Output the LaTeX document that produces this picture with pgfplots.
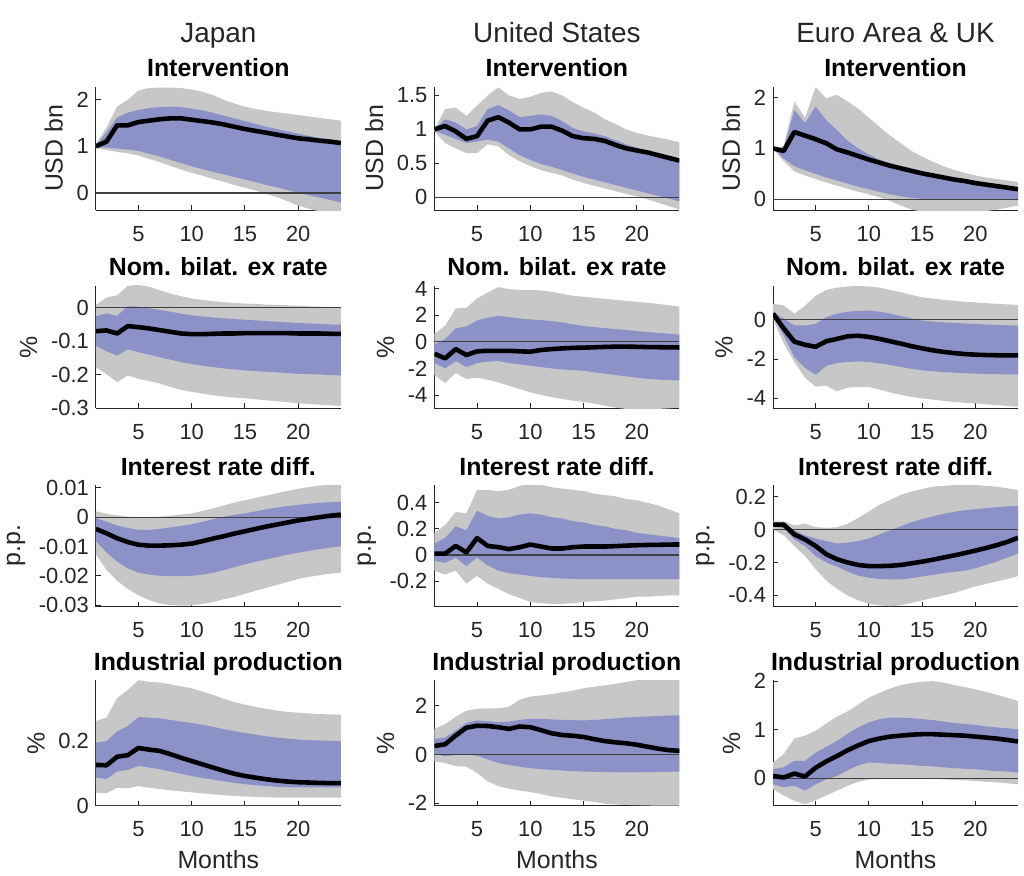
\documentclass[border=0pt]{standalone}
\usepackage{fontspec}
\setmainfont{Liberation Sans}
\usepackage{pgfplots}
\usepackage{pgfplotstable}
\pgfplotsset{compat=1.18}
\usepgfplotslibrary{fillbetween}
\definecolor{bandgray}{RGB}{199,199,199}
\definecolor{bandblue}{RGB}{140,145,200}
\definecolor{axgray}{RGB}{38,38,38}

\pgfplotstableread{
x gl bl m bu gu
1 0.96 0.98 1.0 1.02 1.05
2 0.92 0.97 1.1 1.3 1.4
3 0.88 0.95 1.45 1.62 1.85
4 0.85 0.93 1.45 1.72 2.0
5 0.8 0.9 1.52 1.78 2.2
6 0.73 0.84 1.55 1.82 2.25
7 0.66 0.78 1.58 1.84 2.26
8 0.58 0.71 1.6 1.85 2.26
9 0.5 0.64 1.6 1.84 2.25
10 0.43 0.57 1.57 1.81 2.22
11 0.37 0.51 1.54 1.77 2.17
12 0.3 0.45 1.51 1.72 2.1
13 0.24 0.4 1.47 1.66 2.0
14 0.17 0.34 1.42 1.6 1.92
15 0.11 0.29 1.37 1.54 1.85
16 0.05 0.23 1.33 1.48 1.8
17 -0.02 0.17 1.29 1.42 1.76
18 -0.09 0.12 1.25 1.37 1.73
19 -0.18 0.06 1.21 1.32 1.7
20 -0.27 0.0 1.17 1.27 1.67
21 -0.34 -0.05 1.15 1.22 1.64
22 -0.4 -0.1 1.12 1.18 1.61
23 -0.45 -0.15 1.1 1.14 1.58
24 -0.5 -0.21 1.07 1.1 1.55
}\TA
\pgfplotstableread{
x gl bl m bu gu
1 0.97 0.98 1.0 1.0 1.0
2 0.8 0.92 1.05 1.15 1.3
3 0.72 0.86 0.97 1.1 1.32
4 0.65 0.8 0.86 1.0 1.2
5 0.65 0.82 0.9 1.05 1.35
6 0.78 0.85 1.13 1.3 1.5
7 0.75 0.82 1.18 1.36 1.62
8 0.62 0.72 1.1 1.28 1.5
9 0.53 0.62 1.0 1.18 1.45
10 0.46 0.55 1.0 1.2 1.48
11 0.4 0.49 1.04 1.22 1.54
12 0.36 0.45 1.04 1.2 1.56
13 0.32 0.4 0.98 1.12 1.5
14 0.26 0.35 0.9 1.02 1.4
15 0.21 0.3 0.87 0.97 1.32
16 0.17 0.26 0.86 0.94 1.25
17 0.13 0.22 0.83 0.9 1.15
18 0.09 0.18 0.77 0.84 1.08
19 0.05 0.14 0.72 0.78 1.0
20 0.01 0.1 0.69 0.73 0.95
21 -0.03 0.06 0.66 0.68 0.91
22 -0.08 0.02 0.62 0.63 0.88
23 -0.13 -0.02 0.58 0.58 0.85
24 -0.18 -0.06 0.54 0.54 0.81
}\TB
\pgfplotstableread{
x gl bl m bu gu
1 1.0 1.0 1.0 1.0 1.0
2 0.75 0.8 0.95 1.0 1.05
3 0.55 0.65 1.32 1.75 1.92
4 0.47 0.57 1.25 1.5 1.6
5 0.4 0.5 1.18 1.82 2.2
6 0.33 0.43 1.1 1.55 1.98
7 0.27 0.37 0.98 1.36 2.05
8 0.21 0.31 0.92 1.15 1.92
9 0.15 0.25 0.85 1.0 1.78
10 0.1 0.2 0.78 0.88 1.6
11 0.04 0.15 0.72 0.78 1.42
12 -0.03 0.1 0.66 0.7 1.25
13 -0.12 0.06 0.61 0.64 1.1
14 -0.2 0.03 0.56 0.58 0.95
15 -0.24 0.01 0.51 0.53 0.84
16 -0.26 0.0 0.47 0.49 0.74
17 -0.27 -0.01 0.43 0.45 0.65
18 -0.27 -0.01 0.39 0.41 0.58
19 -0.26 -0.01 0.36 0.37 0.52
20 -0.25 -0.01 0.32 0.34 0.47
21 -0.23 -0.01 0.29 0.31 0.43
22 -0.2 -0.01 0.26 0.28 0.4
23 -0.16 -0.01 0.23 0.25 0.37
24 -0.12 -0.01 0.2 0.22 0.34
}\TC
\pgfplotstableread{
x gl bl m bu gu
1 -0.178 -0.114 -0.07 -0.026 0.008
2 -0.198 -0.13 -0.068 -0.017 0.03
3 -0.222 -0.143 -0.077 -0.024 0.037
4 -0.202 -0.124 -0.055 0.004 0.065
5 -0.212 -0.133 -0.058 0.003 0.068
6 -0.219 -0.14 -0.062 -0.002 0.062
7 -0.226 -0.148 -0.067 -0.007 0.052
8 -0.236 -0.155 -0.072 -0.012 0.042
9 -0.245 -0.162 -0.077 -0.018 0.034
10 -0.251 -0.168 -0.079 -0.023 0.027
11 -0.256 -0.173 -0.079 -0.026 0.023
12 -0.261 -0.177 -0.078 -0.029 0.019
13 -0.265 -0.181 -0.077 -0.032 0.016
14 -0.268 -0.184 -0.077 -0.034 0.014
15 -0.27 -0.187 -0.076 -0.036 0.012
16 -0.273 -0.189 -0.076 -0.038 0.011
17 -0.276 -0.191 -0.076 -0.04 0.009
18 -0.279 -0.193 -0.076 -0.042 0.008
19 -0.282 -0.195 -0.076 -0.044 0.007
20 -0.285 -0.197 -0.077 -0.046 0.006
21 -0.287 -0.198 -0.077 -0.047 0.004
22 -0.289 -0.199 -0.077 -0.048 0.003
23 -0.291 -0.201 -0.078 -0.05 0.002
24 -0.293 -0.202 -0.078 -0.051 0.001
}\TD
\pgfplotstableread{
x gl bl m bu gu
1 -2.5 -1.6 -0.9 -0.2 0.6
2 -3.1 -2.0 -1.25 0.2 1.2
3 -2.35 -1.45 -0.55 1.0 2.5
4 -2.8 -1.9 -1.0 1.15 2.55
5 -2.7 -1.6 -0.72 1.6 3.25
6 -2.85 -1.5 -0.68 1.8 3.7
7 -3.05 -1.45 -0.68 1.95 4.1
8 -3.3 -1.6 -0.68 1.85 3.95
9 -3.55 -1.7 -0.72 1.75 3.9
10 -3.8 -1.8 -0.75 1.68 3.9
11 -4.0 -1.9 -0.62 1.62 3.85
12 -4.15 -2.0 -0.55 1.55 3.75
13 -4.3 -2.08 -0.5 1.45 3.6
14 -4.42 -2.13 -0.46 1.3 3.45
15 -4.52 -2.18 -0.44 1.18 3.38
16 -4.65 -2.3 -0.42 1.1 3.3
17 -4.8 -2.4 -0.39 1.02 3.22
18 -4.95 -2.5 -0.37 0.95 3.15
19 -5.05 -2.6 -0.37 0.88 3.07
20 -5.1 -2.7 -0.38 0.8 3.0
21 -5.1 -2.78 -0.4 0.73 2.92
22 -5.05 -2.84 -0.41 0.66 2.84
23 -5.0 -2.88 -0.42 0.6 2.74
24 -4.95 -2.91 -0.43 0.54 2.64
}\TE
\pgfplotstableread{
x gl bl m bu gu
1 0.03 0.17 0.3 0.37 0.8
2 -1.2 -0.8 -0.45 0.05 0.72
3 -2.15 -1.9 -1.12 -0.3 0.3
4 -2.95 -2.45 -1.28 -0.3 0.7
5 -3.4 -2.8 -1.38 -0.22 1.2
6 -3.35 -2.35 -1.1 0.12 1.5
7 -3.65 -2.2 -0.98 0.3 1.62
8 -3.45 -2.15 -0.85 0.4 1.68
9 -3.42 -2.12 -0.82 0.44 1.7
10 -3.42 -2.15 -0.88 0.45 1.68
11 -3.55 -2.22 -0.98 0.4 1.62
12 -3.7 -2.3 -1.1 0.3 1.5
13 -3.82 -2.4 -1.22 0.18 1.38
14 -3.92 -2.5 -1.35 0.06 1.25
15 -4.0 -2.57 -1.46 -0.05 1.13
16 -4.06 -2.62 -1.56 -0.1 1.07
17 -4.12 -2.66 -1.64 -0.14 1.0
18 -4.18 -2.69 -1.7 -0.17 0.95
19 -4.22 -2.72 -1.75 -0.2 0.9
20 -4.25 -2.74 -1.78 -0.22 0.87
21 -4.3 -2.76 -1.8 -0.25 0.83
22 -4.34 -2.77 -1.81 -0.27 0.8
23 -4.38 -2.78 -1.82 -0.29 0.77
24 -4.42 -2.79 -1.82 -0.3 0.74
}\TF
\pgfplotstableread{
x gl bl m bu gu
1 -0.0127 -0.0082 -0.004 -0.0003 0.002
2 -0.018 -0.012 -0.0055 -0.0015 0.0012
3 -0.0217 -0.0152 -0.0072 -0.0028 0.0006
4 -0.0245 -0.0175 -0.0085 -0.0037 0.0002
5 -0.0267 -0.0189 -0.0094 -0.0043 0.0
6 -0.0283 -0.0196 -0.0097 -0.0043 0.0
7 -0.0295 -0.02 -0.0097 -0.004 0.0002
8 -0.03 -0.0201 -0.0096 -0.0035 0.0005
9 -0.0302 -0.0201 -0.0094 -0.003 0.0009
10 -0.0301 -0.02 -0.009 -0.0024 0.0013
11 -0.0296 -0.0196 -0.0082 -0.0016 0.0021
12 -0.029 -0.019 -0.0073 -0.0007 0.003
13 -0.028 -0.0181 -0.0065 0.0002 0.004
14 -0.0272 -0.0171 -0.0056 0.0008 0.005
15 -0.0262 -0.0161 -0.0048 0.0013 0.0058
16 -0.0251 -0.0152 -0.004 0.002 0.0066
17 -0.0241 -0.0144 -0.0032 0.0027 0.0074
18 -0.0231 -0.0136 -0.0025 0.0033 0.0082
19 -0.0221 -0.0128 -0.0018 0.0038 0.009
20 -0.0211 -0.0121 -0.0011 0.0042 0.0097
21 -0.0204 -0.0115 -0.0005 0.0046 0.0103
22 -0.0198 -0.0109 0.0 0.0049 0.0108
23 -0.0193 -0.0104 0.0005 0.0051 0.0112
24 -0.0189 -0.0099 0.0009 0.0053 0.0115
}\TG
\pgfplotstableread{
x gl bl m bu gu
1 -0.12 -0.045 0.01 0.09 0.17
2 -0.15 -0.06 0.01 0.13 0.23
3 -0.12 -0.02 0.07 0.22 0.33
4 -0.22 -0.085 0.02 0.19 0.32
5 -0.16 -0.02 0.13 0.34 0.5
6 -0.22 -0.08 0.07 0.3 0.5
7 -0.26 -0.12 0.06 0.28 0.49
8 -0.3 -0.14 0.045 0.29 0.5
9 -0.33 -0.15 0.06 0.31 0.53
10 -0.36 -0.16 0.08 0.32 0.55
11 -0.37 -0.17 0.065 0.31 0.54
12 -0.375 -0.175 0.05 0.29 0.52
13 -0.375 -0.18 0.05 0.28 0.51
14 -0.37 -0.183 0.06 0.26 0.5
15 -0.36 -0.185 0.065 0.25 0.49
16 -0.355 -0.185 0.065 0.23 0.47
17 -0.35 -0.185 0.065 0.22 0.46
18 -0.34 -0.185 0.068 0.2 0.45
19 -0.33 -0.185 0.072 0.19 0.43
20 -0.32 -0.185 0.075 0.17 0.42
21 -0.32 -0.185 0.077 0.16 0.4
22 -0.315 -0.185 0.078 0.15 0.38
23 -0.31 -0.185 0.08 0.14 0.35
24 -0.31 -0.185 0.081 0.13 0.32
}\TH
\pgfplotstableread{
x gl bl m bu gu
1 0.0 0.02 0.03 0.044 0.05
2 -0.035 0.008 0.03 0.04 0.05
3 -0.1 -0.06 -0.03 -0.005 0.025
4 -0.16 -0.1 -0.06 -0.035 0.035
5 -0.24 -0.16 -0.1 -0.055 0.015
6 -0.31 -0.2 -0.15 -0.07 0.01
7 -0.36 -0.225 -0.18 -0.085 0.014
8 -0.4 -0.255 -0.2 -0.08 0.035
9 -0.43 -0.28 -0.215 -0.07 0.07
10 -0.45 -0.293 -0.222 -0.055 0.11
11 -0.46 -0.3 -0.222 -0.03 0.15
12 -0.465 -0.303 -0.22 -0.005 0.18
13 -0.46 -0.302 -0.215 0.02 0.21
14 -0.445 -0.295 -0.205 0.045 0.23
15 -0.43 -0.285 -0.195 0.063 0.245
16 -0.415 -0.275 -0.183 0.08 0.26
17 -0.4 -0.265 -0.17 0.095 0.265
18 -0.385 -0.257 -0.157 0.107 0.27
19 -0.365 -0.25 -0.143 0.117 0.275
20 -0.345 -0.235 -0.128 0.123 0.27
21 -0.33 -0.215 -0.112 0.13 0.265
22 -0.315 -0.195 -0.095 0.135 0.26
23 -0.3 -0.17 -0.075 0.14 0.25
24 -0.283 -0.145 -0.05 0.143 0.24
}\TI
\pgfplotstableread{
x gl bl m bu gu
1 0.04 0.086 0.125 0.193 0.26
2 0.038 0.082 0.124 0.198 0.27
3 0.055 0.105 0.15 0.228 0.33
4 0.053 0.11 0.155 0.244 0.355
5 0.06 0.122 0.177 0.272 0.385
6 0.055 0.117 0.172 0.27 0.38
7 0.051 0.112 0.168 0.268 0.378
8 0.047 0.105 0.158 0.263 0.372
9 0.044 0.098 0.147 0.258 0.366
10 0.041 0.091 0.137 0.254 0.36
11 0.038 0.085 0.127 0.248 0.35
12 0.035 0.08 0.117 0.242 0.34
13 0.032 0.075 0.107 0.235 0.328
14 0.03 0.07 0.098 0.229 0.318
15 0.028 0.066 0.091 0.223 0.31
16 0.027 0.063 0.086 0.218 0.303
17 0.026 0.06 0.081 0.213 0.297
18 0.025 0.058 0.077 0.209 0.292
19 0.025 0.057 0.074 0.206 0.288
20 0.025 0.056 0.072 0.203 0.285
21 0.025 0.056 0.071 0.201 0.283
22 0.025 0.056 0.07 0.2 0.281
23 0.025 0.056 0.069 0.199 0.28
24 0.025 0.056 0.069 0.198 0.279
}\TJ
\pgfplotstableread{
x gl bl m bu gu
1 -0.28 0.03 0.35 0.63 1.05
2 -0.35 -0.07 0.42 0.7 1.25
3 -0.48 -0.02 0.78 0.98 1.55
4 -0.5 0.0 1.1 1.3 1.8
5 -0.75 -0.05 1.18 1.4 1.88
6 -1.1 -0.2 1.17 1.37 1.89
7 -1.3 -0.35 1.12 1.33 1.9
8 -1.4 -0.43 1.05 1.35 1.96
9 -1.48 -0.5 1.15 1.42 2.25
10 -1.54 -0.56 1.12 1.47 2.38
11 -1.62 -0.6 1.0 1.46 2.42
12 -1.72 -0.63 0.87 1.44 2.48
13 -1.78 -0.66 0.8 1.42 2.55
14 -1.84 -0.68 0.77 1.41 2.62
15 -1.89 -0.7 0.72 1.4 2.72
16 -1.95 -0.71 0.63 1.42 2.78
17 -2.02 -0.72 0.55 1.45 2.84
18 -2.05 -0.73 0.5 1.48 2.9
19 -2.07 -0.73 0.46 1.52 2.98
20 -2.08 -0.73 0.4 1.54 3.05
21 -2.09 -0.72 0.32 1.56 3.1
22 -2.1 -0.72 0.24 1.58 3.1
23 -2.1 -0.71 0.18 1.6 3.1
24 -2.1 -0.7 0.15 1.61 3.1
}\TK
\pgfplotstableread{
x gl bl m bu gu
1 -0.22 -0.12 0.05 0.19 0.33
2 -0.35 -0.18 0.02 0.23 0.5
3 -0.46 -0.15 0.1 0.36 0.82
4 -0.53 -0.25 0.04 0.36 0.88
5 -0.45 -0.12 0.22 0.53 0.98
6 -0.35 -0.02 0.35 0.65 1.13
7 -0.25 0.05 0.46 0.77 1.27
8 -0.15 0.17 0.58 0.92 1.38
9 -0.07 0.27 0.68 1.05 1.52
10 -0.02 0.33 0.77 1.15 1.66
11 -0.01 0.32 0.82 1.22 1.76
12 0.0 0.3 0.86 1.25 1.85
13 0.0 0.29 0.88 1.25 1.92
14 0.0 0.28 0.9 1.24 1.96
15 -0.01 0.26 0.91 1.22 1.99
16 -0.01 0.25 0.91 1.2 2.0
17 -0.02 0.23 0.9 1.17 1.97
18 -0.03 0.21 0.89 1.14 1.92
19 -0.04 0.2 0.88 1.12 1.88
20 -0.05 0.19 0.86 1.1 1.83
21 -0.07 0.17 0.84 1.07 1.78
22 -0.08 0.15 0.82 1.05 1.72
23 -0.1 0.14 0.79 1.03 1.66
24 -0.12 0.12 0.76 1.01 1.59
}\TL

\pgfplotsset{
  irf/.style={
    scale only axis, width=123pt,
    xmin=1, xmax=24,
    xtick={5,10,15,20}, xticklabels={5,10,15,20},
    scaled y ticks=false, scaled x ticks=false,
    clip mode=individual,
    axis x line*=bottom, axis y line*=left,
    axis line style={color=axgray, line width=0.5pt},
    tick style={color=axgray, line width=0.5pt},
    tick align=inside, major tick length=2.5pt,
    ticklabel style={font=\fontsize{11}{13}\selectfont, color=axgray},
    xticklabel style={yshift=-4.5pt},
    label style={font=\fontsize{12.5}{15}\selectfont, color=axgray},
    title style={font=\bfseries\fontsize{12.5}{15}\selectfont, anchor=base, at={(0.5,1)}, yshift=-1pt, inner sep=0pt},
    anchor=south west,
  },
  zl/.style={color=black!75, line width=0.7pt},
  ml/.style={color=black, line width=2.3pt, line join=round},
}
\newcommand{\irf}[1]{%
  \addplot[draw=none, name path=gu] table[x=x,y=gu]{#1};
  \addplot[draw=none, name path=gl] table[x=x,y=gl]{#1};
  \addplot[fill=bandgray, draw=none] fill between[of=gu and gl];
  \addplot[draw=none, name path=bu] table[x=x,y=bu]{#1};
  \addplot[draw=none, name path=bl] table[x=x,y=bl]{#1};
  \addplot[fill=bandblue, draw=none] fill between[of=bu and bl];
  \addplot[zl] coordinates {(1,0) (24,0)};
  \addplot[ml] table[x=x,y=m]{#1};
}

\begin{document}
\begin{tikzpicture}
% Row 1
\begin{axis}[irf, at={(46pt,-105.5pt)}, height=62pt, ymin=-0.37, ymax=2.28,
  ytick={0,1,2}, yticklabels={0,1,2}, ylabel={USD bn}, title={Intervention}]
\irf{\TA}
\node[font=\fontsize{14}{17}\selectfont, anchor=base, yshift=22pt, color=axgray] at (axis description cs:0.5,1) {Japan};
\end{axis}
\begin{axis}[irf, at={(216pt,-105.5pt)}, height=62pt, ymin=-0.19, ymax=1.63,
  ytick={0,0.5,1,1.5}, yticklabels={0,0.5,1,1.5}, ylabel={USD bn}, title={Intervention}]
\irf{\TB}
\node[font=\fontsize{14}{17}\selectfont, anchor=base, yshift=22pt, color=axgray] at (axis description cs:0.5,1) {United States};
\end{axis}
\begin{axis}[irf, at={(386pt,-105.5pt)}, height=62pt, ymin=-0.21, ymax=2.21,
  ytick={0,1,2}, yticklabels={0,1,2}, ylabel={USD bn}, title={Intervention}]
\irf{\TC}
\node[font=\fontsize{14}{17}\selectfont, anchor=base, yshift=22pt, color=axgray] at (axis description cs:0.5,1) {Euro Area \& UK};
\end{axis}
% Row 2
\begin{axis}[irf, at={(46pt,-205pt)}, height=61.5pt, ymin=-0.3, ymax=0.065,
  ytick={-0.3,-0.2,-0.1,0}, yticklabels={-0.3,-0.2,-0.1,0}, ylabel={\%}, title={Nom. bilat. ex rate}]
\irf{\TD}
\end{axis}
\begin{axis}[irf, at={(216pt,-205pt)}, height=61.5pt, ymin=-5, ymax=4.2,
  ytick={-4,-2,0,2,4}, yticklabels={-4,-2,0,2,4}, ylabel={\%}, title={Nom. bilat. ex rate}]
\irf{\TE}
\end{axis}
\begin{axis}[irf, at={(386pt,-205pt)}, height=61.5pt, ymin=-4.5, ymax=1.71,
  ytick={-4,-2,0}, yticklabels={-4,-2,0}, ylabel={\%}, title={Nom. bilat. ex rate}]
\irf{\TF}
\end{axis}
% Row 3
\begin{axis}[irf, at={(46pt,-304.5pt)}, height=61pt, ymin=-0.0305, ymax=0.011,
  ytick={-0.03,-0.02,-0.01,0,0.01}, yticklabels={-0.03,-0.02,-0.01,0,0.01}, ylabel={p.p.}, title={Interest rate diff.}]
\irf{\TG}
\end{axis}
\begin{axis}[irf, at={(216pt,-304.5pt)}, height=61pt, ymin=-0.395, ymax=0.537,
  ytick={-0.2,0,0.2,0.4}, yticklabels={-0.2,0,0.2,0.4}, ylabel={p.p.}, title={Interest rate diff.}]
\irf{\TH}
\end{axis}
\begin{axis}[irf, at={(386pt,-304.5pt)}, height=61pt, ymin=-0.467, ymax=0.27,
  ytick={-0.4,-0.2,0,0.2}, yticklabels={-0.4,-0.2,0,0.2}, ylabel={p.p.}, title={Interest rate diff.}]
\irf{\TI}
\end{axis}
% Row 4
\begin{axis}[irf, at={(46pt,-404.5pt)}, height=63pt, ymin=0, ymax=0.385,
  ytick={0,0.2}, yticklabels={0,0.2}, ylabel={\%}, xlabel={Months}, title={Industrial production}]
\irf{\TJ}
\end{axis}
\begin{axis}[irf, at={(216pt,-404.5pt)}, height=63pt, ymin=-2.1, ymax=3.05,
  ytick={-2,0,2}, yticklabels={-2,0,2}, ylabel={\%}, xlabel={Months}, title={Industrial production}]
\irf{\TK}
\end{axis}
\begin{axis}[irf, at={(386pt,-404.5pt)}, height=63pt, ymin=-0.56, ymax=2.02,
  ytick={0,1,2}, yticklabels={0,1,2}, ylabel={\%}, xlabel={Months}, title={Industrial production}]
\irf{\TL}
\end{axis}
\path (0,0) rectangle (512pt,-435pt);
\end{tikzpicture}
\end{document}
